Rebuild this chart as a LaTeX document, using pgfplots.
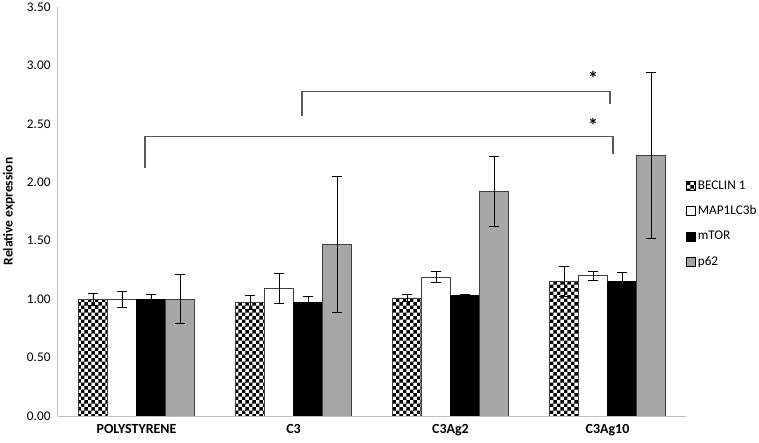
\documentclass[border=0pt]{standalone}
\usepackage{fontspec}
\setmainfont{Carlito}
\usepackage{pgfplots}
\usepackage{pgfplotstable}
\pgfplotsset{compat=1.18}
\usetikzlibrary{patterns}

\pgfdeclarepatternformonly{bigchecker}{\pgfpointorigin}{\pgfqpoint{7.4bp}{7.4bp}}{\pgfqpoint{7.4bp}{7.4bp}}{%
  \pgfpathrectangle{\pgfpointorigin}{\pgfqpoint{3.7bp}{3.7bp}}%
  \pgfpathrectangle{\pgfqpoint{3.7bp}{3.7bp}}{\pgfqpoint{3.7bp}{3.7bp}}%
  \pgfusepath{fill}}

\definecolor{barline}{HTML}{404040}
\definecolor{pgray}{HTML}{A6A6A6}
\definecolor{axisgray}{HTML}{BFBFBF}
\definecolor{brk}{HTML}{5A5A5A}

\pgfplotstableread{
x  b     be    m     me    t     te    p     pe
0  1.00  0.05  1.00  0.07  1.00  0.04  1.00  0.21
1  0.97  0.06  1.09  0.13  0.97  0.05  1.47  0.58
2  1.01  0.03  1.19  0.05  1.03  0.01  1.92  0.30
3  1.15  0.13  1.20  0.04  1.15  0.08  2.23  0.71
}\datatable

\begin{document}
\begin{tikzpicture}
\useasboundingbox (-58bp,-27bp) rectangle (701bp,416bp);
\begin{axis}[
  at={(0,0)}, anchor=south west,
  scale only axis, width=628bp, height=409bp,
  xmin=-0.5, xmax=3.5, ymin=0, ymax=3.5,
  ybar=0pt, bar width=29bp,
  axis x line=bottom, axis y line=left,
  axis line style={-, draw=axisgray, line width=1bp},
  xtick={0,1,2,3}, xticklabels={POLYSTYRENE,C3,C3Ag2,C3Ag10},
  xticklabel style={font=\bfseries\fontsize{14}{16}\selectfont, yshift=-5bp},
  ytick={0,0.5,1,1.5,2,2.5,3,3.5},
  major tick length=0pt,
  yticklabel style={font=\fontsize{13.3}{16}\selectfont, xshift=-4bp, /pgf/number format/.cd, fixed, fixed zerofill, precision=2, assume math mode=true},
  ylabel={\textbf{Relative expression}},
  ylabel style={font=\fontsize{13.5}{16}\selectfont, at={(axis description cs:-0.078,0.5)}, anchor=center},
  legend style={draw=none, fill=none, at={(axis description cs:1.0,0.47)}, anchor=west,
    font=\fontsize{13.3}{16}\selectfont, row sep=11bp, inner sep=0pt},
  legend cell align=left,
  error bars/y dir=both, error bars/y explicit,
  error bars/error bar style={black, line width=0.9bp},
  error bars/error mark options={rotate=90, mark size=5bp, black, line width=0.9bp},
  mylegend/.style={legend image code/.code={\draw[##1, line width=0.6bp, draw=black] (0bp,-4.5bp) rectangle (9bp,4.5bp);}},
]
\addplot[mylegend, draw=barline, line width=0.8bp, pattern=bigchecker, pattern color=black]
  table[x=x, y=b, y error=be] {\datatable};
\addplot[mylegend, draw=barline, line width=0.8bp, fill=white]
  table[x=x, y=m, y error=me] {\datatable};
\addplot[mylegend, draw=black, line width=0.8bp, fill=black]
  table[x=x, y=t, y error=te] {\datatable};
\addplot[mylegend, draw=barline, line width=0.8bp, fill=pgray]
  table[x=x, y=p, y error=pe] {\datatable};
\legend{BECLIN 1, MAP1LC3b, mTOR, p62}

\draw[brk, line width=1.2bp] (axis cs:1.054,2.57) -- (axis cs:1.054,2.78) -- (axis cs:3.016,2.78) -- (axis cs:3.016,2.67);
\draw[brk, line width=1.2bp] (axis cs:0.054,2.12) -- (axis cs:0.054,2.39) -- (axis cs:3.035,2.39) -- (axis cs:3.035,2.24);
\node[anchor=north, inner sep=0pt, font=\bfseries\fontsize{20}{20}\selectfont] at (axis cs:2.908,2.95) {*};
\node[anchor=north, inner sep=0pt, font=\bfseries\fontsize{20}{20}\selectfont] at (axis cs:2.908,2.55) {*};
\end{axis}
\end{tikzpicture}
\end{document}
